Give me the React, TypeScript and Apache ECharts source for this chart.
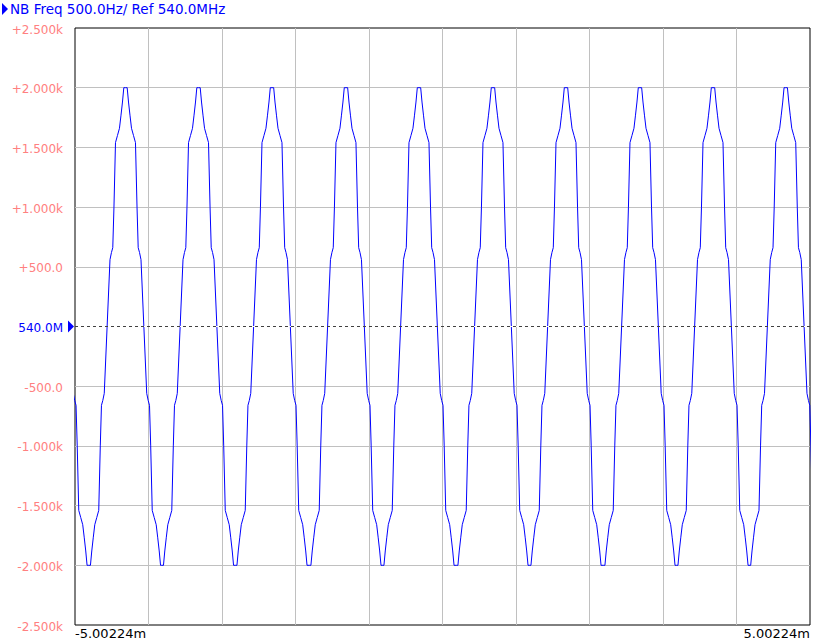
import React, { useEffect, useRef } from "react";
import * as echarts from "echarts";

// ---- Data ----
const X_MIN = -5.00224; // ms
const X_MAX = 5.00224; // ms
const X_INTERVAL = 1.000448; // 10 divisions
const xTickLabels = ["-5.00224m", "5.00224m"];

const Y_MIN = -2500;
const Y_MAX = 2500;
const Y_INTERVAL = 500;
const refLabel = "540.0M";
const titleText = "NB Freq 500.0Hz/ Ref 540.0MHz";

// Times (ms) of each positive peak (first one is just off-chart left)
const peakTimes = [-5.315, -4.315, -3.321, -2.321, -1.314, -0.32, 0.687, 1.681, 2.688, 3.682, 4.672];

// One cycle (trough to trough) of the demodulated waveform:
// offset from the peak (ms) and deviation (Hz)
const cycleOffsets = [
  -0.5, -0.477, -0.459, -0.439, -0.418, -0.391, -0.364, -0.343, -0.327, -0.309, -0.289,
  -0.25, -0.211, -0.191, -0.173, -0.157, -0.136, -0.109, -0.082, -0.061, -0.041, -0.023,
  0, 0.023, 0.041, 0.061, 0.082, 0.109, 0.136, 0.157, 0.173, 0.191, 0.211, 0.25,
  0.289, 0.309, 0.327, 0.343, 0.364, 0.391, 0.418, 0.439, 0.459, 0.477,
];
const cycleValues = [
  -2000, -2000, -1880, -1770, -1660, -1600, -1540, -1000, -660, -620, -560,
  0, 560, 620, 660, 1000, 1540, 1600, 1660, 1770, 1880, 2000,
  2000, 2000, 1880, 1770, 1660, 1600, 1540, 1000, 660, 620, 560, 0,
  -560, -620, -660, -1000, -1540, -1600, -1660, -1770, -1880, -2000,
];

function buildSeries(): [number, number][] {
  const pts: [number, number][] = [];
  for (const p of peakTimes) {
    for (let i = 0; i < cycleOffsets.length; i++) {
      pts.push([p + cycleOffsets[i], cycleValues[i]]);
    }
  }
  return pts;
}

function fmtY(v: number): string {
  if (v === 0) return `{ref|${refLabel}}`;
  const sign = v > 0 ? "+" : "-";
  const a = Math.abs(v);
  if (a >= 1000) return sign + (a / 1000).toFixed(3) + "k";
  return sign + a.toFixed(1);
}

const FONT = "DejaVu Sans";

export default function App() {
  const ref = useRef<HTMLDivElement>(null);
  useEffect(() => {
    if (!ref.current) return;
    const chart = echarts.init(ref.current, undefined, { renderer: "svg" });
    chart.setOption({
      animation: false,
      backgroundColor: "#ffffff",
      textStyle: { fontFamily: FONT },
      grid: {
        left: 75,
        right: 9,
        top: 28,
        bottom: 18,
        show: true,
        borderColor: "#000000",
        borderWidth: 1,
        backgroundColor: "#ffffff",
      },
      xAxis: {
        type: "value",
        min: X_MIN,
        max: X_MAX,
        interval: X_INTERVAL,
        axisLine: { show: false },
        axisTick: { show: false },
        splitLine: {
          show: true,
          showMinLine: false,
          showMaxLine: false,
          lineStyle: { color: "#c0c0c0", width: 1 },
        },
        axisLabel: {
          show: true,
          color: "#000000",
          fontFamily: FONT,
          fontSize: 13,
          margin: 2,
          showMinLabel: true,
          showMaxLabel: true,
          alignMinLabel: "left",
          alignMaxLabel: "right",
          formatter: (v: number) =>
            Math.abs(v - X_MIN) < 1e-4 ? xTickLabels[0] : Math.abs(v - X_MAX) < 1e-4 ? xTickLabels[1] : "",
        },
      },
      yAxis: {
        type: "value",
        min: Y_MIN,
        max: Y_MAX,
        interval: Y_INTERVAL,
        axisLine: { show: false },
        axisTick: { show: false },
        splitLine: {
          show: true,
          showMinLine: false,
          showMaxLine: false,
          lineStyle: { color: "#c0c0c0", width: 1 },
        },
        axisLabel: {
          color: "#ff8080",
          fontFamily: FONT,
          fontSize: 12,
          margin: 12,
          padding: [3, 0, 0, 0],
          formatter: fmtY,
          rich: {
            ref: { color: "#0000ff", fontFamily: FONT, fontSize: 12 },
          },
        },
      },
      series: [
        {
          type: "line",
          data: [],
          z: 1,
          silent: true,
          markLine: {
            silent: true,
            symbol: ["none", "none"],
            label: { show: false },
            data: [
              { yAxis: 0, lineStyle: { color: "#ffffff", type: "solid", width: 1 } },
              { yAxis: 0, lineStyle: { color: "#404040", type: [3, 3], width: 1 } },
            ],
          },
        },
        {
          type: "line",
          data: buildSeries(),
          z: 3,
          showSymbol: false,
          symbol: "none",
          clip: true,
          lineStyle: { color: "#0000ff", width: 1 },
        },
      ],
    });
    const [gx, gy] = chart.convertToPixel({ gridIndex: 0 }, [X_MIN, 0]) as number[];
    chart.setOption({
      graphic: [
        {
          type: "polygon",
          shape: { points: [[2, 3], [8, 9], [2, 15]] },
          style: { fill: "#0000ff" },
        },
        {
          type: "text",
          left: 10,
          top: 2,
          style: { text: titleText, fill: "#0000ff", font: `13.5px "${FONT}"` },
        },
        {
          type: "polygon",
          shape: { points: [[gx - 7, gy - 6], [gx - 1, gy], [gx - 7, gy + 6]] },
          style: { fill: "#0000ff" },
        },
      ],
    });
    return () => chart.dispose();
  }, []);
  return (
    <div
      ref={ref}
      style={{ position: "fixed", left: 0, top: 0, width: 819, height: 643, background: "#fff" }}
    />
  );
}
